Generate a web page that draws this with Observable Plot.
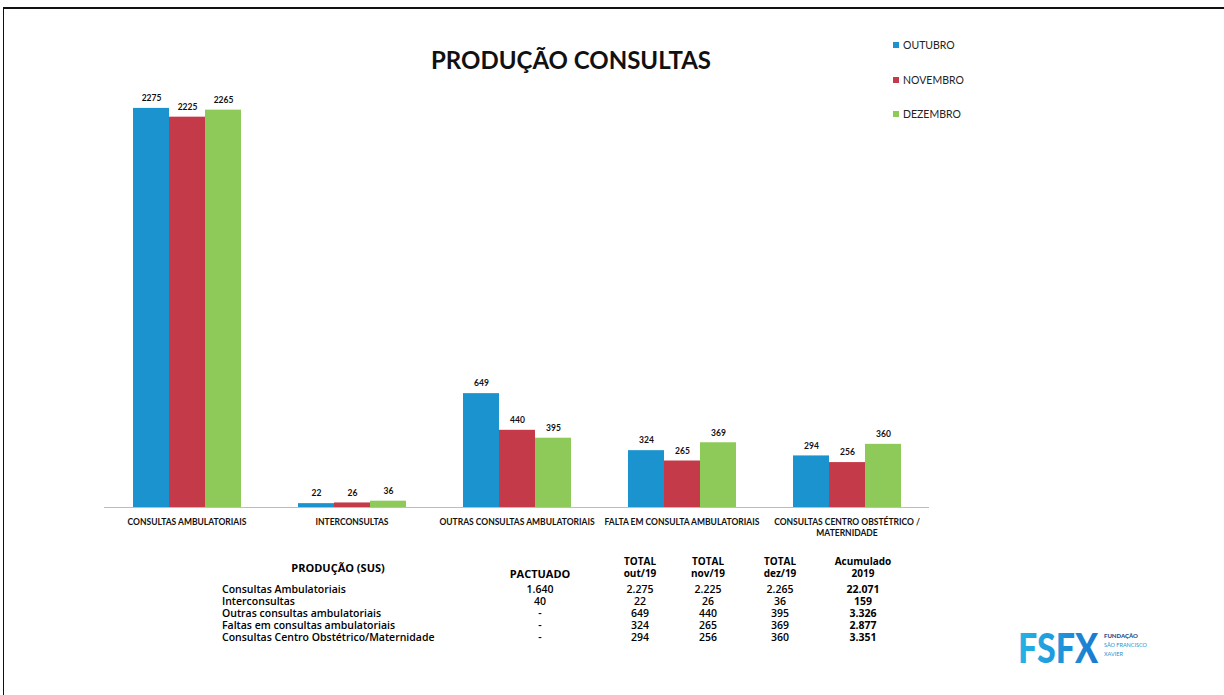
<!DOCTYPE html>
<html><head><meta charset="utf-8">
<script src="https://cdn.jsdelivr.net/npm/d3@7"></script>
<script src="https://cdn.jsdelivr.net/npm/@observablehq/plot@0.6"></script>
<style>
body{margin:0;background:#fff;width:1224px;height:695px;position:relative;overflow:hidden;font-family:Lato,sans-serif;color:#111}
#frame{position:absolute;left:3px;top:7px;width:1230px;height:700px;border-top:2px solid #111;border-left:1.5px solid #111;box-sizing:border-box}
#chart{position:absolute;left:0;top:0}
#title{position:absolute;left:371px;top:46px;width:400px;text-align:center;font:bold 24px/28px Lato,sans-serif;color:#111}
#legend{position:absolute;left:893px;top:0}
.li{position:absolute;left:0;white-space:nowrap;font:10.5px/12px Lato,sans-serif;color:#222}
.li span.sw{display:inline-block;width:6px;height:6px;margin-right:4px;vertical-align:1px}
.tc{position:absolute;white-space:nowrap;font-family:"Open Sans",sans-serif;font-weight:600;font-size:10.5px;line-height:11px;color:#000;transform:translate(-50%,-50%)}
.tl{position:absolute;white-space:nowrap;font-family:"Open Sans",sans-serif;font-weight:600;font-size:10.5px;line-height:11px;color:#000;transform:translate(0,-50%)}
#logo{position:absolute;left:1010px;top:618px}
</style></head><body>
<div id="frame"></div>
<div id="chart"></div>
<div id="title">PRODUÇÃO CONSULTAS</div>
<div id="legend"></div>
<div id="table"></div>
<svg id="logo" width="200" height="70">
  <defs><linearGradient id="lg" x1="0" x2="1" y1="0" y2="0">
    <stop offset="0" stop-color="#25b4e6"/><stop offset="1" stop-color="#1b78cf"/></linearGradient></defs>
  <text transform="translate(8,45) scale(1,1.25)" font-family="Lato" font-weight="900" font-size="34" fill="url(#lg)">FSFX</text>
  <text x="94" y="20" font-family="Lato" font-weight="900" font-size="6" fill="#1f4e8c">FUNDAÇÃO</text>
  <text x="94" y="29" font-family="Lato" font-size="5.5" fill="#2b8fd0">SÃO FRANCISCO</text>
  <text x="94" y="38" font-family="Lato" font-size="5.5" fill="#2b8fd0">XAVIER</text>
</svg>
<script>
// ---- data ----
const categories = ["CONSULTAS AMBULATORIAIS","INTERCONSULTAS","OUTRAS CONSULTAS AMBULATORIAIS","FALTA EM CONSULTA AMBULATORIAIS","CONSULTAS CENTRO OBSTÉTRICO / MATERNIDADE"];
const months = ["OUTUBRO","NOVEMBRO","DEZEMBRO"];
const outubro = [2275,22,649,324,294];
const novembro = [2225,26,440,265,256];
const dezembro = [2265,36,395,369,360];
const monthColors = ["#1b93cf","#c43a48","#8dca5a"];

const tableTitle = "PRODUÇÃO (SUS)";
const tableRowLabels = ["Consultas Ambulatoriais","Interconsultas","Outras consultas ambulatoriais","Faltas em consultas ambulatoriais","Consultas Centro Obstétrico/Maternidade"];
const pactuado = ["1.640","40","-","-","-"];
const totalOut = [2275,22,649,324,294];
const totalNov = [2225,26,440,265,256];
const totalDez = [2265,36,395,369,360];
const acumulado = [22071,159,3326,2877,3351];
const tableHeaders = [["PACTUADO"],["TOTAL","out/19"],["TOTAL","nov/19"],["TOTAL","dez/19"],["Acumulado","2019"]];

// ---- build chart ----
const series = [outubro, novembro, dezembro];
const data = [];
categories.forEach((c, i) => months.forEach((m, j) => data.push({cat: c, month: m, value: series[j][i]})));

const chart = Plot.plot({
  width: 1224, height: 560,
  marginLeft: 102, marginRight: 293, marginTop: 100, marginBottom: 53,
  style: {fontFamily: "Lato, sans-serif", background: "transparent", color: "#111"},
  fx: {domain: categories, padding: 0, label: null},
  x: {domain: months, paddingInner: 0, paddingOuter: 0.76, axis: null},
  y: {domain: [0, 2320], axis: null},
  color: {domain: months, range: monthColors},
  marks: [
    Plot.barY(data, {fx: "cat", x: "month", y: "value", fill: "month"}),
    Plot.ruleY([0], {stroke: "#bdbdbd"}),
    Plot.text(data, {fx: "cat", x: "month", y: "value", text: d => String(d.value), dy: -10, fontSize: 8.5, fontWeight: "bold", fill: "#111"}),
    Plot.axisFx({anchor: "bottom", tickSize: 0, tickPadding: 10, fontSize: 8.5, fontWeight: "bold", label: null, lineHeight: 1.3,
      tickFormat: d => d.replace("/ ", "/\n")})
  ]
});
document.getElementById("chart").appendChild(chart);

// ---- legend ----
const legend = document.getElementById("legend");
const legendY = [45, 80, 114];
months.forEach((m, i) => {
  const d = document.createElement("div");
  d.className = "li";
  d.style.top = (legendY[i] - 6) + "px";
  d.innerHTML = `<span class="sw" style="background:${monthColors[i]}"></span>${m}`;
  legend.appendChild(d);
});

// ---- table ----
const fmt = d3.formatLocale({decimal: ",", thousands: ".", grouping: [3], currency: ["R$", ""]}).format(",d");
const table = document.getElementById("table");
function cell(cls, x, y, txt, weight, size) {
  const d = document.createElement("div");
  d.className = cls;
  d.style.left = x + "px"; d.style.top = y + "px";
  if (weight) d.style.fontWeight = weight;
  if (size) d.style.fontSize = size + "px";
  d.textContent = txt;
  table.appendChild(d);
}
cell("tc", 338, 567, tableTitle, "bold", 11);
const colX = [540, 640, 708, 780, 863];
cell("tc", colX[0], 573, tableHeaders[0][0], "bold", 11);
for (let k = 1; k < 5; k++) {
  cell("tc", colX[k], 561, tableHeaders[k][0], "bold", 10);
  cell("tc", colX[k], 573, tableHeaders[k][1], "bold", 10);
}
const rowY = [589, 601, 613, 625, 637];
tableRowLabels.forEach((lab, i) => {
  cell("tl", 222, rowY[i], lab, null, 10.5);
  cell("tc", colX[0], rowY[i], pactuado[i], null, 10.5);
  cell("tc", colX[1], rowY[i], fmt(totalOut[i]), null, 10.5);
  cell("tc", colX[2], rowY[i], fmt(totalNov[i]), null, 10.5);
  cell("tc", colX[3], rowY[i], fmt(totalDez[i]), null, 10.5);
  cell("tc", colX[4], rowY[i], fmt(acumulado[i]), "bold", 10.5);
});
</script>
</body></html>
